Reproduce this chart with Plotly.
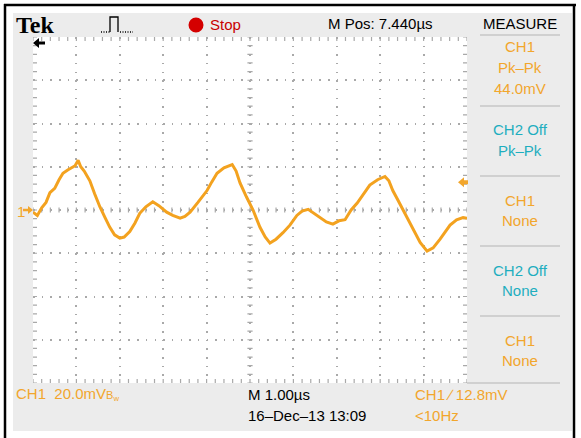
import plotly.graph_objects as go

# ---------------- data ----------------
time_us = [0.00, 0.10, 0.20, 0.30, 0.39, 0.50, 0.60, 0.69, 0.80, 0.90, 0.97, 1.04, 1.10, 1.18,
           1.31, 1.42, 1.54, 1.66, 1.77, 1.88, 2.00, 2.10, 2.23, 2.35, 2.46, 2.60, 2.76, 2.90,
           3.08, 3.22, 3.39, 3.50, 3.62, 3.80, 4.01, 4.12, 4.24, 4.40, 4.59, 4.68, 4.77, 4.92,
           5.07, 5.23, 5.35, 5.46, 5.60, 5.76, 5.92, 6.08, 6.20, 6.34, 6.47, 6.61, 6.76, 6.91,
           7.05, 7.19, 7.33, 7.47, 7.62, 7.76, 7.94, 8.11, 8.20, 8.29, 8.41, 8.53, 8.65, 8.76,
           8.92, 9.08, 9.22, 9.38, 9.50, 9.61, 9.76, 9.91, 10.0]
ch1_mV = [-1.0, -2.5, 1.0, 3.5, 8.0, 10.0, 14.0, 17.0, 18.5, 19.5, 20.5, 23.0, 20.0, 18.0,
          13.5, 7.5, 1.5, -3.5, -8.0, -11.5, -13.0, -12.5, -10.0, -6.0, -1.5, 1.5, 3.8, 2.0,
          -1.0, -2.5, -3.8, -3.0, -1.0, 3.5, 9.0, 13.0, 17.0, 19.5, 21.0, 18.0, 12.5, 6.0,
          0.0, -8.0, -12.5, -15.3, -13.5, -10.5, -7.0, -2.5, -0.5, 0.3, -1.5, -3.8, -5.5, -6.5,
          -5.0, -4.5, 0.0, 3.2, 7.5, 11.5, 14.0, 15.5, 13.5, 9.0, 4.5, 0.0, -4.5, -9.0,
          -15.0, -19.0, -17.5, -13.5, -10.0, -7.0, -4.5, -3.5, -3.8]

trigger_level_mV = 12.8
volts_per_div_mV = 20.0
time_per_div_us = 1.0
h_divs = 10
v_divs = 8

measure_rows = [("CH1", "orange"), ("Pk\u2013Pk", "orange"), ("44.0mV", "orange"),
                ("CH2 Off", "teal"), ("Pk\u2013Pk", "teal"),
                ("CH1", "orange"), ("None", "orange"),
                ("CH2 Off", "teal"), ("None", "teal"),
                ("CH1", "orange"), ("None", "orange")]
measure_y = [46, 67, 88, 130, 150, 200, 220, 270, 290, 340, 360]

# ---------------- geometry / style ----------------
W, H = 581, 438
GX0, GX1, GY0, GY1 = 33, 467, 37, 383
ORANGE = "#f2a62c"
TRACE = "#f3a21f"
TEAL = "#1eaebf"
GRAY_BG = "#ececec"
GRID = "#a9a9a9"
FONT = "Liberation Sans, Arial, sans-serif"

def px(x):
    return x / W

def py(y):
    return 1 - y / H

XMAX = h_divs * time_per_div_us
YMAX = v_divs / 2 * volts_per_div_mV
ux = XMAX / (GX1 - GX0)          # data units per pixel (x)
uy = 2 * YMAX / (GY1 - GY0)      # data units per pixel (y)

fig = go.Figure()
fig.add_trace(go.Scatter(x=time_us, y=ch1_mV, mode="lines",
                         line=dict(color=TRACE, width=3), hoverinfo="skip"))

shapes = []
# frame
shapes.append(dict(type="rect", xref="paper", yref="paper", x0=px(13), x1=px(572),
                   y0=py(431), y1=py(13), fillcolor=GRAY_BG, line=dict(width=0), layer="below"))
shapes.append(dict(type="rect", xref="paper", yref="paper", x0=px(GX0), x1=px(GX1),
                   y0=py(GY1), y1=py(GY0), fillcolor="white", line=dict(width=0), layer="below"))
for (x0, y0, x1, y1) in [(4, 5, 576, 5), (5, 4, 5, 438), (574, 4, 574, 438)]:
    shapes.append(dict(type="line", xref="paper", yref="paper", x0=px(x0), y0=py(y0),
                       x1=px(x1), y1=py(y1), line=dict(color="black", width=2.5)))

# graticule tick marks (edges and centre cross)
minor_x = [i * time_per_div_us / 5 for i in range(h_divs * 5 + 1)]
minor_y = [-YMAX + i * volts_per_div_mV / 5 for i in range(v_divs * 5 + 1)]
p = []
for xv in minor_x:
    p.append(f"M{xv},{-2.6*uy} L{xv},{2.6*uy}")
    p.append(f"M{xv},{YMAX} L{xv},{YMAX-4*uy}")
    p.append(f"M{xv},{-YMAX} L{xv},{-YMAX+4*uy}")
for yv in minor_y:
    p.append(f"M{XMAX/2-2.6*ux},{yv} L{XMAX/2+2.6*ux},{yv}")
    p.append(f"M0,{yv} L{4*ux},{yv}")
    p.append(f"M{XMAX},{yv} L{XMAX-4*ux},{yv}")
shapes.append(dict(type="path", xref="x", yref="y", path=" ".join(p),
                   line=dict(color=GRID, width=1.2), layer="below"))

# black trigger-position arrow (top-left) and orange markers
def ppath(pts):
    return "M" + " L".join(f"{px(a)},{py(b)}" for a, b in pts) + " Z"

shapes.append(dict(type="path", xref="paper", yref="paper",
                   path=ppath([(33, 43), (39, 38), (39, 41.6), (45, 41.6), (45, 44.4), (39, 44.4), (39, 48)]),
                   fillcolor="black", line=dict(width=0)))
ty = GY0 + (YMAX - trigger_level_mV) / uy
shapes.append(dict(type="path", xref="paper", yref="paper",
                   path=ppath([(458, ty), (464, ty-5), (464, ty-2), (468, ty-2), (468, ty+2), (464, ty+2), (464, ty+5)]),
                   fillcolor=ORANGE, line=dict(width=0)))
zy = GY0 + YMAX / uy
shapes.append(dict(type="path", xref="paper", yref="paper",
                   path=ppath([(33, zy), (28, zy-4), (28, zy-1.3), (23, zy-1.3), (23, zy+1.3), (28, zy+1.3), (28, zy+4)]),
                   fillcolor=ORANGE, line=dict(width=0)))

# run/stop dot and trigger icon
shapes.append(dict(type="circle", xref="paper", yref="paper", x0=px(188.5), x1=px(203.5),
                   y0=py(32.5), y1=py(17.5), fillcolor="#d40000", line=dict(width=0)))
shapes.append(dict(type="path", xref="paper", yref="paper",
                   path="M" + " L".join(f"{px(a)},{py(b)}" for a, b in [(110, 32), (110, 17), (118, 17), (118, 32)]),
                   line=dict(color="black", width=1.3)))
for (a, b) in [(101, 110), (120, 133)]:
    shapes.append(dict(type="line", xref="paper", yref="paper", x0=px(a), x1=px(b), y0=py(32), y1=py(32),
                       line=dict(color="black", width=1.3, dash="1px,1.5px")))

# separators in the measure panel
for sy in [35, 106, 176, 246, 316]:
    shapes.append(dict(type="line", xref="paper", yref="paper", x0=px(480), x1=px(560),
                       y0=py(sy), y1=py(sy), line=dict(color="#b4b4b4", width=1.2)))
shapes.append(dict(type="line", xref="paper", yref="paper", x0=px(GX1), x1=px(560),
                   y0=py(383), y1=py(383), line=dict(color="#b4b4b4", width=1.2)))

ann = []
def text(x, y, s, color="black", size=15, anchor="left", family=FONT):
    ann.append(dict(x=px(x), y=py(y), xref="paper", yref="paper", text=s, showarrow=False,
                    xanchor=anchor, yanchor="middle", font=dict(color=color, size=size, family=family)))

text(14, 25, "<b>Tek</b>", size=24, family="Liberation Serif, Times New Roman, serif")
text(208, 24, "Stop", color="#c80000")
text(326, 23, "M Pos: 7.440\u00b5s")
text(520, 23, "MEASURE", anchor="center")
cmap = {"orange": ORANGE, "teal": TEAL}
for (s, c), yy in zip(measure_rows, measure_y):
    text(520, yy, s, color=cmap[c], anchor="center")
text(15, 211, "1", color=ORANGE)
text(14, 394, "CH1\u00a0\u00a020.0mV<span style='font-size:11px'>B<sub>w</sub></span>", color=ORANGE)
text(246, 394, "M 1.00\u00b5s")
text(246, 415, "16\u2013Dec\u201313 13:09")
text(413, 394, "CH1 \u2215 12.8mV", color=ORANGE)
text(413, 415, "&lt;10Hz", color=ORANGE)

fig.update_layout(
    width=W, height=H, margin=dict(l=0, r=0, t=0, b=0),
    paper_bgcolor="white", plot_bgcolor="rgba(0,0,0,0)",
    showlegend=False, shapes=shapes, annotations=ann,
    xaxis=dict(domain=[px(GX0), px(GX1)], range=[0, XMAX], dtick=time_per_div_us,
               showgrid=True, gridcolor=GRID, gridwidth=1.5, griddash="1.5px,7.15px",
               zeroline=False, showticklabels=False, ticks="", showline=False, fixedrange=True),
    yaxis=dict(domain=[py(GY1), py(GY0)], range=[-YMAX, YMAX], dtick=volts_per_div_mV,
               showgrid=True, gridcolor=GRID, gridwidth=1.5, griddash="1.5px,7.18px",
               zeroline=False, showticklabels=False, ticks="", showline=False, fixedrange=True),
)

fig.write_html("out.html", config={"displayModeBar": False},
               post_script="document.body.style.margin='0px';")
